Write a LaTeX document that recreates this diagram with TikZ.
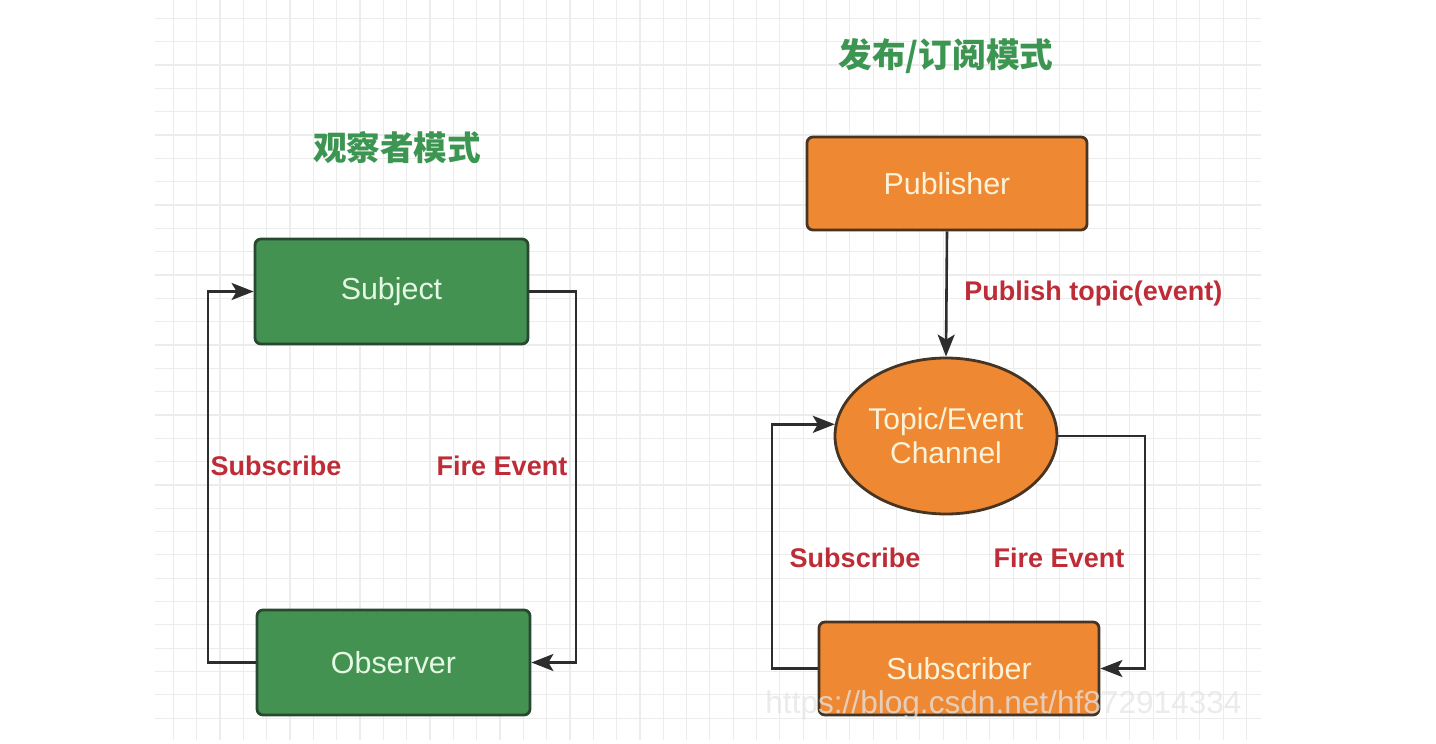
\documentclass[tikz,border=0pt]{standalone}
\usepackage{fontspec}
\setmainfont{Liberation Sans}
\newfontfamily\cjk{Noto Sans CJK SC}
\usetikzlibrary{shapes.geometric,arrows.meta}
\definecolor{gfill}{RGB}{67,146,82}
\definecolor{gdraw}{RGB}{42,72,48}
\definecolor{ofill}{RGB}{238,136,50}
\definecolor{odraw}{RGB}{72,52,34}
\definecolor{lred}{RGB}{190,45,55}
\definecolor{tgreen}{RGB}{60,150,82}
\definecolor{gtext}{RGB}{228,248,228}
\definecolor{otext}{RGB}{252,242,215}
\definecolor{lcol}{RGB}{45,45,45}
\definecolor{gridc}{RGB}{236,236,236}
\tikzset{
  gbox/.style={draw=gdraw, fill=gfill, line width=1.4pt, rounded corners=3pt,
    minimum width=136.5pt, minimum height=52.5pt, text=gtext, font=\fontsize{15.2}{18}\selectfont},
  obox/.style={draw=odraw, fill=ofill, line width=1.4pt, rounded corners=3pt,
    minimum width=140pt, minimum height=46.5pt, text=otext, font=\fontsize{15.2}{18}\selectfont},
  oell/.style={ellipse, draw=odraw, fill=ofill, line width=1.4pt, inner sep=0pt,
    minimum width=111pt, minimum height=78pt, text=otext, align=center,
    font=\fontsize{15}{17}\selectfont},
  lbl/.style={text=lred, font=\bfseries\fontsize{13.5}{16}\selectfont, inner sep=0pt},
  ttl/.style={text=tgreen, font=\cjk\bfseries\fontsize{16.8}{20}\selectfont, inner sep=0pt},
  conn/.style={draw=lcol, line width=1.3pt, -{Stealth[length=11pt, width=8.5pt, inset=2.5pt]}},
}
\begin{document}
\begin{tikzpicture}[x=0.5pt, y=-0.5pt]
\useasboundingbox (0,0) rectangle (1436,744);
\fill[white] (0,0) rectangle (1436,744);
% grid
\begin{scope}
\clip (155,0) rectangle (1261,740);
\foreach \i in {-1,...,48} {
  \draw[gridc, line width=0.6pt] ({173.3+23.33*\i},0) -- ({173.3+23.33*\i},740);
}
\foreach \j in {-1,...,32} {
  \draw[gridc, line width=0.6pt] (155,{18.3+23.33*\j}) -- (1261,{18.3+23.33*\j});
}
\end{scope}
% titles
\node[ttl] (t1) at (397,148) {观察者模式};
\node[ttl] (t2) at (946,56) {发布/订阅模式};
% observer pattern
\node[gbox] (subj) at (391.5,291.5) {Subject};
\node[gbox] (obs) at (393.5,662.5) {Observer};
\coordinate (l1) at (208,0);
\coordinate (r1) at (576,0);
\draw[conn] (obs.west) -- (obs.west -| l1) |- (subj.west);
\draw[conn] (subj.east) -- (subj.east -| r1) |- (obs.east);
\node[lbl] (s1) at (276,466) {Subscribe};
\node[lbl] (f1) at (502,466) {Fire Event};
% pub/sub pattern
\node[obox] (pub) at (947,183.5) {Publisher};
\node[oell] (topic) at (946,436) {Topic/Event\\Channel};
\node[obox] (sub) at (959,668.5) {Subscriber};
\coordinate (l2) at (772,0);
\coordinate (r2) at (1145,0);
\draw[conn] (pub.south) -- (topic.north);
\draw[conn] (sub.west) -- (sub.west -| l2) |- (topic.174);
\draw[conn] (topic.east) -- (topic.east -| r2) |- (sub.east);
\node[lbl, anchor=west] (p1) at (964,294) {Publish topic(event)};
\node[lbl] (s2) at (855,558) {Subscribe};
\node[lbl] (f2) at (1059,558) {Fire Event};
% watermark
\node[anchor=west, inner sep=0pt, text=white!80!gray, text opacity=0.75,
  font=\fontsize{15.8}{18}\selectfont] (wm) at (765,705) {https://blog.csdn.net/hf872914334};
\end{tikzpicture}
\end{document}
